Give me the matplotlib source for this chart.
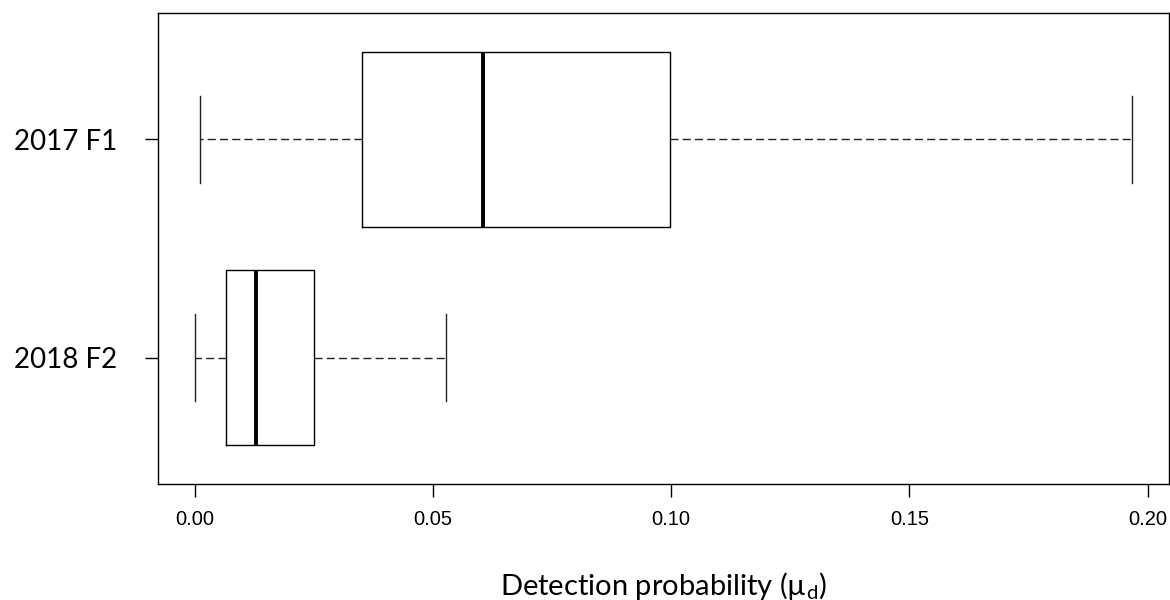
import matplotlib
matplotlib.use("Agg")
import matplotlib.pyplot as plt

# box statistics (bottom group first, like R)
groups = ["2018 F2", "2017 F1"]
whislo = [0.0001, 0.0011]
q1 = [0.0065, 0.0352]
med = [0.0129, 0.0606]
q3 = [0.0250, 0.0998]
whishi = [0.0527, 0.1967]

xticks = [0.00, 0.05, 0.10, 0.15, 0.20]
xticklabels = ["0.00", "0.05", "0.10", "0.15", "0.20"]

stats = []
for i in range(len(groups)):
    stats.append({"label": groups[i], "whislo": whislo[i], "q1": q1[i],
                  "med": med[i], "q3": q3[i], "whishi": whishi[i], "fliers": []})

fig = plt.figure(figsize=(11.7, 6), dpi=100)
ax = fig.add_axes([158 / 1170, 116 / 600, 1011 / 1170, 471 / 600])

ax.bxp(stats, positions=[1, 2], widths=0.8, capwidths=0.4,
       orientation="horizontal", showfliers=False,
       boxprops=dict(color="black", linewidth=1.0),
       medianprops=dict(color="black", linewidth=2.8, solid_capstyle="butt"),
       whiskerprops=dict(color="#222222", linewidth=1.0, linestyle=(0, (5.8, 3.0))),
       capprops=dict(color="#222222", linewidth=1.0))

ax.set_xlim(-0.0077, 0.2045)
ax.set_ylim(0.42, 2.58)

ax.set_xticks(xticks)
ax.set_xticklabels(xticklabels, fontfamily="Liberation Sans", fontsize=14.5)
ax.set_yticks([1, 2])
ax.set_yticklabels(groups, fontfamily="Lato", fontsize=20)
ax.tick_params(axis="x", length=9.4, width=1.0, pad=9.5)
ax.tick_params(axis="y", length=9.4, width=1.0, pad=20)

for s in ax.spines.values():
    s.set_linewidth(1.0)

ax.set_xlabel("Detection probability (\u00b5$_\\mathregular{d}$)",
              fontfamily="Lato", fontsize=21, va="baseline")
ax.xaxis.set_label_coords(0.5, -(595 - 484) / 471)

fig.savefig("out.png", dpi=100)
